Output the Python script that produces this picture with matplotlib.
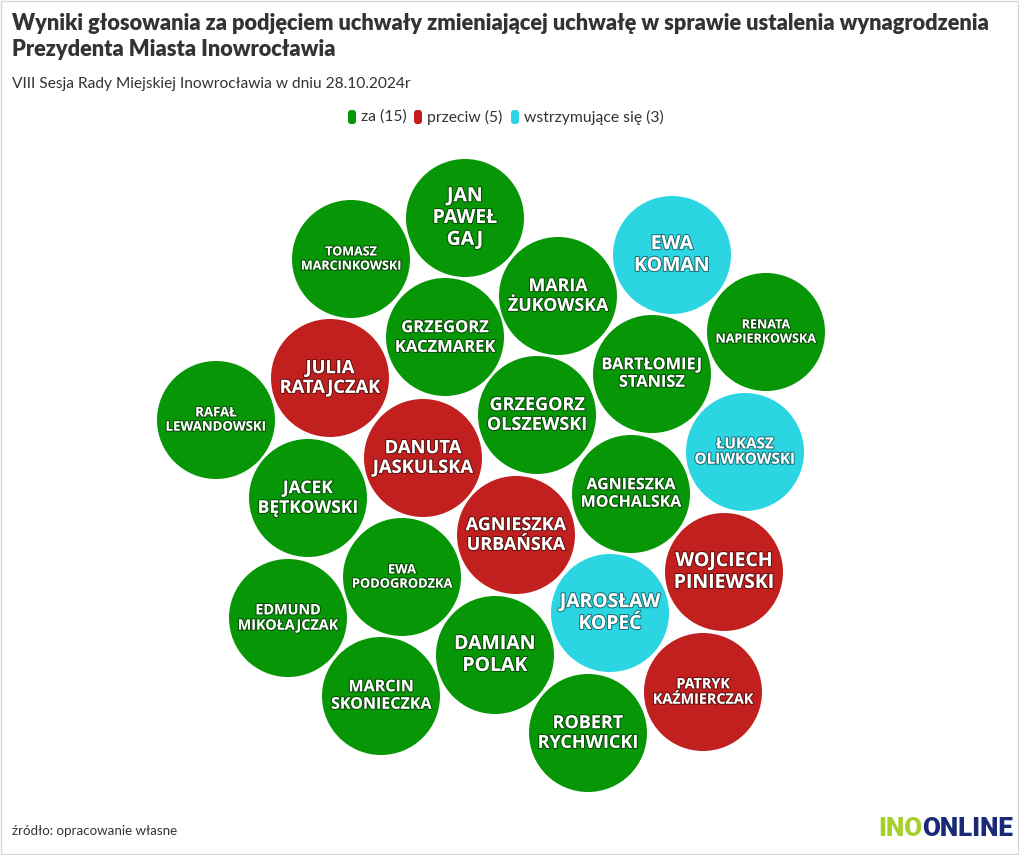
import matplotlib
matplotlib.use("Agg")
import matplotlib.pyplot as plt
from matplotlib.patches import Circle, Rectangle, FancyBboxPatch
import matplotlib.patheffects as pe

# ---------------- data ----------------
names = [
    "JAN\nPAWEŁ\nGAJ", "TOMASZ\nMARCINKOWSKI", "EWA\nKOMAN", "MARIA\nŻUKOWSKA",
    "RENATA\nNAPIERKOWSKA", "GRZEGORZ\nKACZMAREK", "JULIA\nRATAJCZAK",
    "BARTŁOMIEJ\nSTANISZ", "RAFAŁ\nLEWANDOWSKI", "GRZEGORZ\nOLSZEWSKI",
    "DANUTA\nJASKULSKA", "ŁUKASZ\nOLIWKOWSKI", "JACEK\nBĘTKOWSKI",
    "AGNIESZKA\nMOCHALSKA", "AGNIESZKA\nURBAŃSKA", "WOJCIECH\nPINIEWSKI",
    "EWA\nPODOGRODZKA", "EDMUND\nMIKOŁAJCZAK", "JAROSŁAW\nKOPEĆ",
    "DAMIAN\nPOLAK", "MARCIN\nSKONIECZKA", "PATRYK\nKAŹMIERCZAK",
    "ROBERT\nRYCHWICKI",
]
votes = [
    "za", "za", "wstrzymujące się", "za", "za", "za", "przeciw", "za", "za", "za",
    "przeciw", "wstrzymujące się", "za", "za", "przeciw", "przeciw", "za", "za",
    "wstrzymujące się", "za", "za", "przeciw", "za",
]
categories = ["za", "przeciw", "wstrzymujące się"]

# ---------------- layout (packed-bubble positions, pixel space) ----------------
bubble_x = [465, 351, 672, 558, 766, 445, 330, 652, 216, 537, 423, 745, 308,
            631, 516, 724, 402, 288, 610, 495, 381, 703, 588]
bubble_y = [218, 259, 255, 296, 332, 337, 378, 374, 420, 415, 458, 452, 498,
            494, 535, 572, 577, 618, 613, 655, 696, 692, 733]
radius = 59

colors = {"za": "#069606", "przeciw": "#c21f1f", "wstrzymujące się": "#2bd6e2"}
txt = "#333333"

W, H = 1020, 855
fig = plt.figure(figsize=(W / 100, H / 100), dpi=100)
ax = fig.add_axes([0, 0, 1, 1])
ax.set_xlim(0, W)
ax.set_ylim(H, 0)
ax.set_aspect("equal")
ax.axis("off")

renderer = fig.canvas.get_renderer()

def fit_text(t, target_px, max_pt):
    t.set_fontsize(max_pt)
    w = t.get_window_extent(renderer=renderer).width
    if w > target_px:
        t.set_fontsize(max_pt * target_px / w)

# bubbles
outline = [pe.withStroke(linewidth=1.6, foreground=(0, 0, 0, 0.45))]
for name, v, x, y in zip(names, votes, bubble_x, bubble_y):
    ax.add_patch(Circle((x, y), radius, facecolor=colors[v], edgecolor="none"))
    t = ax.text(x, y, name, ha="center", va="center", ma="center",
                color="white", fontweight="bold", family="Open Sans",
                linespacing=1.12, path_effects=outline)
    fit_text(t, 101, 14)

# title
t1 = fig.text(12 / W, 1 - 24 / H, "Wyniki głosowania za podjęciem uchwały zmieniającej uchwałę w sprawie ustalenia wynagrodzenia",
              ha="left", va="center", color=txt, fontweight="heavy", family="Lato")
fit_text(t1, 981, 17)
t2 = fig.text(12 / W, 1 - 50 / H, "Prezydenta Miasta Inowrocławia",
              ha="left", va="center", color=txt, fontweight="heavy", family="Lato",
              fontsize=t1.get_fontsize())
sub = fig.text(12 / W, 1 - 84 / H, "VIII Sesja Rady Miejskiej Inowrocławia w dniu 28.10.2024r",
               ha="left", va="center", color=txt, family="Lato")
fit_text(sub, 398, 12)

# legend
counts = [votes.count(c) for c in categories]
leg_x = [347, 413, 510]
for c, n, lx in zip(categories, counts, leg_x):
    ax.add_patch(FancyBboxPatch((lx + 1, 110), 8, 14,
                                boxstyle="round,pad=0,rounding_size=3",
                                facecolor=colors[c], edgecolor="none"))
    ax.text(lx + 14, 117, f"{c} ({n})", ha="left", va="center", color=txt,
            family="Lato", fontsize=11.3)

# source
fig.text(12 / W, 1 - 831 / H, "źródło: opracowanie własne", ha="left", va="center",
         color=txt, family="Lato", fontsize=9.6)

# logo
logo_pt = 16.5
l1 = ax.text(878, 829, "INO", ha="left", va="center", color="#a5cf2a",
             fontweight="heavy", family="Roboto", fontsize=logo_pt)
l2 = ax.annotate("ONLINE", xy=(1, 0.5), xycoords=l1, ha="left", va="center",
                 color="#1b2a78", fontweight="heavy", family="Roboto", fontsize=logo_pt)
fig.canvas.draw()
tot = l1.get_window_extent(renderer).width + l2.get_window_extent(renderer).width
scale = 135 / tot
l1.set_fontsize(logo_pt * scale)
l2.set_fontsize(logo_pt * scale)

# border
fig.patches.append(Rectangle((0.0005, 0.001), 0.998, 0.998, transform=fig.transFigure,
                             fill=False, edgecolor="#d8d8d8", linewidth=1))

fig.savefig("out.png", dpi=100, facecolor="white")
